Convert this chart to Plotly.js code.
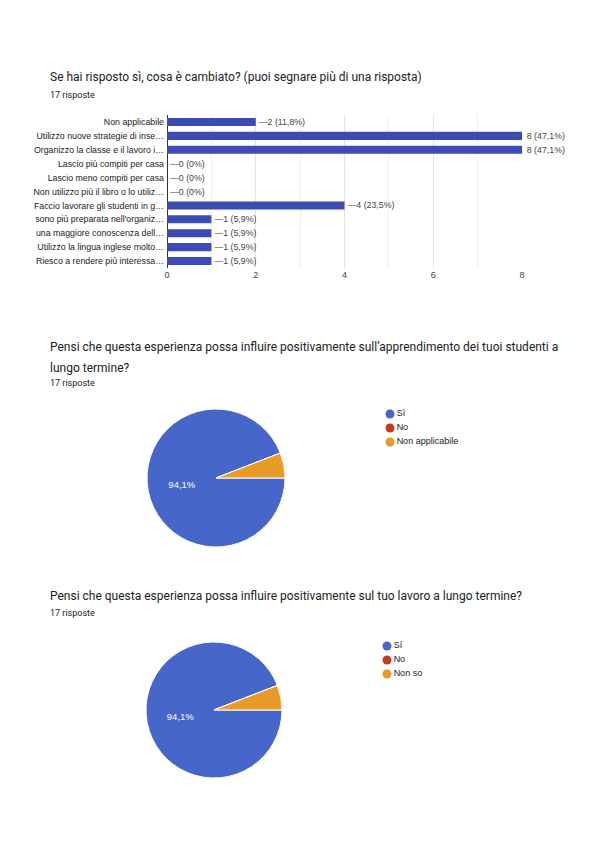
<!DOCTYPE html>
<html>
<head>
<meta charset="utf-8">
<script src="https://cdn.plot.ly/plotly-3.0.1.min.js"></script>
<style>
html,body{margin:0;padding:0;background:#fff;}
#chart{width:596px;height:842px;}
</style>
</head>
<body>
<div id="chart"></div>
<script>
// ---- Data ----
const totalResponses = 17;

const barTitle = "Se hai risposto sì, cosa è cambiato? (puoi segnare più di una risposta)";
const barCategories = [
  "Non applicabile",
  "Utilizzo nuove strategie di inse…",
  "Organizzo la classe e il lavoro i…",
  "Lascio più compiti per casa",
  "Lascio meno compiti per casa",
  "Non utilizzo più il libro o lo utiliz…",
  "Faccio lavorare gli studenti in g…",
  "sono più preparata nell'organiz…",
  "una maggiore conoscenza dell…",
  "Utilizzo la lingua inglese molto…",
  "Riesco a rendere più interessa…"
];
const barValues = [2, 8, 8, 0, 0, 0, 4, 1, 1, 1, 1];
const barTickVals = [0, 2, 4, 6, 8];

const pie1TitleLines = [
  "Pensi che questa esperienza possa influire positivamente sull’apprendimento dei tuoi studenti a",
  "lungo termine?"
];
const pie1Labels = ["Sì", "No", "Non applicabile"];
const pie1Values = [16, 0, 1];

const pie2Title = "Pensi che questa esperienza possa influire positivamente sul tuo lavoro a lungo termine?";
const pie2Labels = ["Sì", "No", "Non so"];
const pie2Values = [16, 0, 1];

const subtitle = "17 risposte";

// ---- Styles ----
const W = 596, H = 842;
const barColor = "#3d4bb5";
const pieColors = ["#4766c9", "#c5391f", "#e89b26"];
const titleFont = {family: "Roboto, 'Liberation Sans', Arial, sans-serif", size: 12, color: "#202124"};
const subFont = {family: "Roboto, 'Liberation Sans', Arial, sans-serif", size: 9, color: "#202124"};
const chartFont = "'Liberation Sans', Arial, sans-serif";

const px = x => x / W;
const py = y => 1 - y / H;

function fmtPct(v, total) {
  const p = v / total * 100;
  if (p === 0) return "0%";
  return p.toFixed(1).replace(".", ",") + "%";
}

const maxBar = Math.max(...barValues);
const barText = barValues.map(v => (v < maxBar ? "\u2014" : "\u2009") + v + " (" + fmtPct(v, totalResponses) + ")");

function pieText(vals) {
  const tot = vals.reduce((a, b) => a + b, 0);
  return vals.map(v => (v / tot >= 0.1 ? fmtPct(v, tot) : ""));
}

const traces = [
  {
    type: "bar",
    orientation: "h",
    x: barValues,
    y: barCategories,
    marker: {color: barColor},
    text: barText,
    textposition: "outside",
    constraintext: "none",
    cliponaxis: false,
    textfont: {family: chartFont, size: 8.8, color: "#444"},
    hoverinfo: "none",
    xaxis: "x",
    yaxis: "y",
    showlegend: false
  },
  {
    type: "pie",
    labels: pie1Labels,
    values: pie1Values,
    sort: false,
    direction: "clockwise",
    rotation: 90,
    marker: {colors: pieColors, line: {color: "#fff", width: 1}},
    text: pieText(pie1Values),
    textinfo: "text",
    textposition: "inside",
    insidetextorientation: "horizontal",
    textfont: {family: chartFont, size: 9.5, color: "#fff"},
    hoverinfo: "none",
    showlegend: false,
    domain: {x: [px(147), px(285)], y: [py(547), py(409)]}
  },
  {
    type: "pie",
    labels: pie2Labels,
    values: pie2Values,
    sort: false,
    direction: "clockwise",
    rotation: 90,
    marker: {colors: pieColors, line: {color: "#fff", width: 1}},
    text: pieText(pie2Values),
    textinfo: "text",
    textposition: "inside",
    insidetextorientation: "horizontal",
    textfont: {family: chartFont, size: 9.5, color: "#fff"},
    hoverinfo: "none",
    showlegend: false,
    domain: {x: [px(146), px(282)], y: [py(778), py(642)]}
  },
  {
    type: "scatter",
    mode: "markers+text",
    x: pie1Labels.map(() => 0),
    y: pie1Labels,
    text: pie1Labels,
    textposition: "middle right",
    textfont: {family: chartFont, size: 9, color: "#222"},
    marker: {color: pieColors, size: 9, symbol: "circle"},
    cliponaxis: false,
    hoverinfo: "none",
    showlegend: false,
    xaxis: "x2",
    yaxis: "y2"
  },
  {
    type: "scatter",
    mode: "markers+text",
    x: pie2Labels.map(() => 0),
    y: pie2Labels,
    text: pie2Labels,
    textposition: "middle right",
    textfont: {family: chartFont, size: 9, color: "#222"},
    marker: {color: pieColors, size: 9, symbol: "circle"},
    cliponaxis: false,
    hoverinfo: "none",
    showlegend: false,
    xaxis: "x3",
    yaxis: "y3"
  }
];

const hiddenAxis = {visible: false, showgrid: false, zeroline: false, fixedrange: true};

const layout = {
  width: W,
  height: H,
  margin: {l: 0, r: 0, t: 0, b: 0},
  paper_bgcolor: "#fff",
  plot_bgcolor: "#fff",
  showlegend: false,
  bargap: 0.42,
  xaxis: {
    domain: [px(167), px(522)],
    range: [0, 8],
    tickvals: barTickVals,
    tickfont: {family: chartFont, size: 9, color: "#444"},
    showgrid: true,
    gridcolor: "#e3e3e3",
    minor: {dtick: 1, showgrid: true, gridcolor: "#efefef"},
    zeroline: true,
    zerolinecolor: "#333",
    zerolinewidth: 1,
    ticks: "",
    showline: false,
    fixedrange: true,
    anchor: "y"
  },
  yaxis: {
    domain: [py(268), py(115)],
    autorange: "reversed",
    tickfont: {family: chartFont, size: 8.8, color: "#222"},
    ticks: "",
    ticklabelstandoff: 2,
    showgrid: false,
    zeroline: false,
    fixedrange: true,
    anchor: "x"
  },
  xaxis2: Object.assign({}, hiddenAxis, {domain: [px(390), px(500)], range: [0, 1], anchor: "y2"}),
  yaxis2: Object.assign({}, hiddenAxis, {domain: [py(449), py(407)], range: [2.5, -0.5], type: "category", anchor: "x2"}),
  xaxis3: Object.assign({}, hiddenAxis, {domain: [px(387), px(500)], range: [0, 1], anchor: "y3"}),
  yaxis3: Object.assign({}, hiddenAxis, {domain: [py(681), py(639)], range: [2.5, -0.5], type: "category", anchor: "x3"}),
  annotations: [
    {text: barTitle, x: px(48), y: py(77), xref: "paper", yref: "paper", xanchor: "left", yanchor: "middle", showarrow: false, font: titleFont},
    {text: subtitle, x: px(48), y: py(95), xref: "paper", yref: "paper", xanchor: "left", yanchor: "middle", showarrow: false, font: subFont},
    {text: pie1TitleLines[0], x: px(48), y: py(347), xref: "paper", yref: "paper", xanchor: "left", yanchor: "middle", showarrow: false, font: titleFont},
    {text: pie1TitleLines[1], x: px(48), y: py(368), xref: "paper", yref: "paper", xanchor: "left", yanchor: "middle", showarrow: false, font: titleFont},
    {text: subtitle, x: px(48), y: py(383), xref: "paper", yref: "paper", xanchor: "left", yanchor: "middle", showarrow: false, font: subFont},
    {text: pie2Title, x: px(48), y: py(596), xref: "paper", yref: "paper", xanchor: "left", yanchor: "middle", showarrow: false, font: titleFont},
    {text: subtitle, x: px(48), y: py(613), xref: "paper", yref: "paper", xanchor: "left", yanchor: "middle", showarrow: false, font: subFont}
  ]
};

Plotly.newPlot("chart", traces, layout, {staticPlot: true, displayModeBar: false});
</script>
</body>
</html>
